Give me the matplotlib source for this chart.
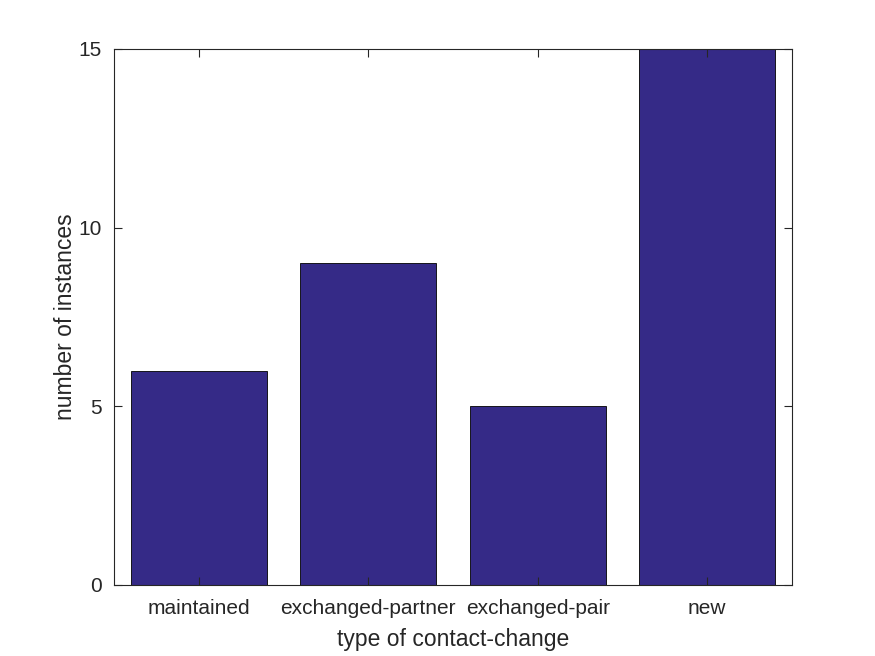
import matplotlib
matplotlib.use("Agg")
import matplotlib.pyplot as plt

categories = ["maintained", "exchanged-partner", "exchanged-pair", "new"]
counts = [6, 9, 5, 15]
yticks = [0, 5, 10, 15]

plt.rcParams['font.family'] = ['Liberation Sans', 'DejaVu Sans']
txt = "#262626"

fig = plt.figure(figsize=(8.75, 6.56), dpi=100)
ax = fig.add_axes([114/875, 1 - 585/656, (792 - 114)/875, (585 - 49)/656])

xs = list(range(1, len(categories) + 1))
ax.bar(xs, counts, width=0.8, color="#352a87", edgecolor="black", linewidth=0.6)

ax.set_xlim(0.5, 4.5)
ax.set_ylim(0, 15)
ax.set_xticks(xs)
ax.set_xticklabels(categories)
ax.set_yticks(yticks)
ax.tick_params(direction="in", top=True, right=True, length=6, width=0.8,
               color=txt, labelcolor=txt, labelsize=15)
ax.tick_params(axis="x", pad=10)
ax.tick_params(axis="y", pad=9)
for s in ax.spines.values():
    s.set_color(txt)
    s.set_linewidth(0.8)
ax.set_xlabel("type of contact-change", fontsize=16.5, color=txt, labelpad=7)
ax.set_ylabel("number of instances", fontsize=16.5, color=txt, labelpad=1)

fig.savefig("out.png", dpi=100)
